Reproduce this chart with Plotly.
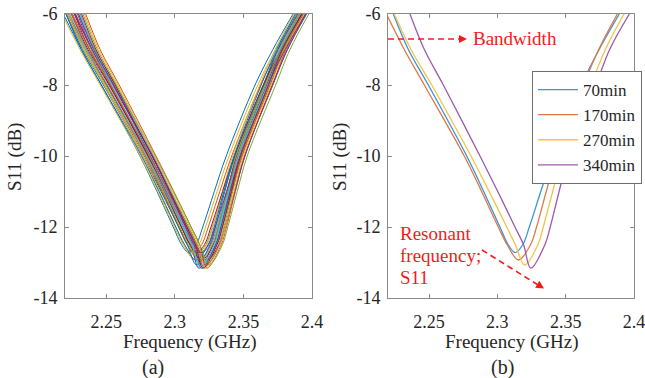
import plotly.graph_objects as go

# ---------------- data ----------------
S_LEVELS_70 = [-6, -7, -8, -10, -11, -12, -12.5, -12.72, -12.5, -12, -11, -10, -8, -7, -6]
F70  = [2.2239, 2.2349, 2.2495, 2.2776, 2.2900, 2.3019, 2.3080, 2.3130, 2.3186, 2.3234, 2.3318, 2.3405, 2.3615, 2.3745, 2.3892]
S_LEVELS_170 = [-6, -7, -8, -10, -11, -12, -12.5, -12.93, -12.5, -12, -11, -10, -8, -7, -6]
F170 = [2.2188, 2.2319, 2.2466, 2.2758, 2.2885, 2.3007, 2.3072, 2.3155, 2.3243, 2.3287, 2.3358, 2.3432, 2.3630, 2.3742, 2.3878]
S_LEVELS_270 = [-6, -7, -8, -10, -11, -12, -12.5, -13.07, -12.5, -12, -11, -10, -8, -7, -6]
F270 = [2.2246, 2.2368, 2.2520, 2.2807, 2.2940, 2.3069, 2.3132, 2.3200, 2.3297, 2.3336, 2.3405, 2.3478, 2.3685, 2.3790, 2.3927]
S_LEVELS_340 = [-6, -7, -8, -10, -11, -12, -12.5, -13.16, -12.5, -12, -11, -10, -8, -7, -6]
F340 = [2.2361, 2.2466, 2.2605, 2.2873, 2.3003, 2.3129, 2.3192, 2.3245, 2.3348, 2.3387, 2.3452, 2.3520, 2.3722, 2.3822, 2.3966]
LEGEND_NAMES = ["70min", "170min", "270min", "340min"]

# Panel (a): many measurements, each the shape of one of the (b) curves shifted in frequency
A_SHAPE = [0, 1, 2, 3, 0, 1, 2, 3, 0, 1, 2, 3, 0, 1, 2, 3, 0, 1, 2, 3, 0, 1, 2, 3, 0, 1, 2, 3]
A_SHIFT = [-0.003, 0.002, -0.002, -0.007, 0.004, 0.006, 0.000, -0.005, 0.001, -0.001, 0.003, -0.003, 0.007, 0.004,
           -0.004, -0.001, -0.001, 0.008, 0.005, -0.006, 0.003, 0.000, 0.001, -0.002, 0.006, 0.003, -0.001, -0.004]

X_TICKS = [2.25, 2.3, 2.35, 2.4]
X_TICKTEXT = ["2.25", "2.3", "2.35", "2.4"]
Y_TICKS = [-14, -12, -10, -8, -6]
Y_TICKTEXT = ["-14", "-12", "-10", "-8", "-6"]

# ---------------- style ----------------
W, H = 645, 378
MATLAB = ['#0072BD', '#D95319', '#EDB120', '#7E2F8E', '#77AC30', '#4DBEEE', '#A2142F']
B_COLORS = ['#3d93d6', '#e07848', '#f2c448', '#9c5aab']
FONT = "Liberation Serif, Times New Roman, serif"
TXT = '#262626'
AXC = '#8a8a8a'
RED = '#f01c1c'


def px(x):
    return x / W


def py(y):
    return 1 - y / H


shapes_f = [F70, F170, F270, F340]
shapes_s = [S_LEVELS_70, S_LEVELS_170, S_LEVELS_270, S_LEVELS_340]

fig = go.Figure()

for i, (k, d) in enumerate(zip(A_SHAPE, A_SHIFT)):
    xs = [f + d for f in shapes_f[k]]
    fig.add_trace(go.Scatter(x=xs, y=shapes_s[k], mode='lines',
                             line=dict(color=MATLAB[i % 7], width=1, shape='spline', smoothing=1.0),
                             xaxis='x', yaxis='y', showlegend=False, hoverinfo='skip'))

for F, S, name, c in zip(shapes_f, shapes_s, LEGEND_NAMES, B_COLORS):
    fig.add_trace(go.Scatter(x=F, y=S, mode='lines', name=name,
                             line=dict(color=c, width=1.3, shape='spline', smoothing=1.0),
                             xaxis='x2', yaxis='y2', showlegend=True))

xd1 = [px(65), px(312)]
xd2 = [px(388), px(634)]
yd = [py(298), py(14)]

axcommon = dict(showgrid=False, zeroline=False, showline=True, linecolor=AXC, linewidth=1, mirror='ticks',
                ticks='inside', ticklen=4, tickcolor=AXC, automargin=False,
                tickfont=dict(family=FONT, size=18, color=TXT))

fig.update_layout(
    template='none',
    width=W, height=H, margin=dict(l=0, r=0, t=0, b=0, pad=0),
    paper_bgcolor='white', plot_bgcolor='white',
    xaxis=dict(domain=xd1, range=[2.22, 2.4], tickvals=X_TICKS, ticktext=X_TICKTEXT, anchor='y',
               ticklabelstandoff=7, ticklabeloverflow='allow', **axcommon),
    yaxis=dict(domain=yd, range=[-14, -6], tickvals=Y_TICKS, ticktext=Y_TICKTEXT, anchor='x', ticklabelstandoff=3, **axcommon),
    xaxis2=dict(domain=xd2, range=[2.22, 2.4], tickvals=X_TICKS, ticktext=X_TICKTEXT, anchor='y2',
                ticklabelstandoff=7, ticklabeloverflow='allow', **axcommon),
    yaxis2=dict(domain=yd, range=[-14, -6], tickvals=Y_TICKS, ticktext=Y_TICKTEXT, anchor='x2', ticklabelstandoff=3, **axcommon),
    legend=dict(x=px(532), y=py(71), xanchor='left', yanchor='top', bgcolor='white', bordercolor='#6e6e6e', borderwidth=1,
                font=dict(family=FONT, size=17, color=TXT), itemwidth=40, tracegroupgap=0),
    showlegend=True,
)

ann = []


def text(x, y, s, size=18, color=TXT, angle=0, xanchor='center'):
    ann.append(dict(x=px(x), y=py(y), xref='paper', yref='paper', text=s, showarrow=False, textangle=angle,
                    xanchor=xanchor, yanchor='middle', font=dict(family=FONT, size=size, color=color)))


text(189, 342, "Frequency (GHz)", size=19)
text(511, 342, "Frequency (GHz)", size=19)
text(153, 367, "(a)", size=20)
text(502, 367, "(b)", size=20)
text(15, 157, "S11 (dB)", size=19, angle=-90)
text(340, 157, "S11 (dB)", size=19, angle=-90)
text(471, 39, "Bandwidth", color=RED, size=19, xanchor='left')
text(398, 233, "Resonant", color=RED, size=19, xanchor='left')
text(398, 255, "frequency;", color=RED, size=19, xanchor='left')
text(398, 277, "S11", color=RED, size=19, xanchor='left')

# arrow heads
ann.append(dict(x=px(467), y=py(39), xref='paper', yref='paper', ax=-8, ay=0, text='', showarrow=True,
                arrowhead=2, arrowsize=1, arrowwidth=1.6, arrowcolor=RED))
ann.append(dict(x=px(544), y=py(288.5), xref='paper', yref='paper', ax=-8, ay=-5, text='', showarrow=True,
                arrowhead=2, arrowsize=1, arrowwidth=1.6, arrowcolor=RED))
fig.update_layout(annotations=ann)

fig.add_shape(type='line', xref='paper', yref='paper', x0=px(388), y0=py(39), x1=px(461), y1=py(39),
              line=dict(color=RED, width=1.6, dash='6px,4px'))
fig.add_shape(type='line', xref='paper', yref='paper', x0=px(482), y0=py(250), x1=px(537), y1=py(284.3),
              line=dict(color=RED, width=1.6, dash='6px,4px'))

fig.write_html("out.html")
